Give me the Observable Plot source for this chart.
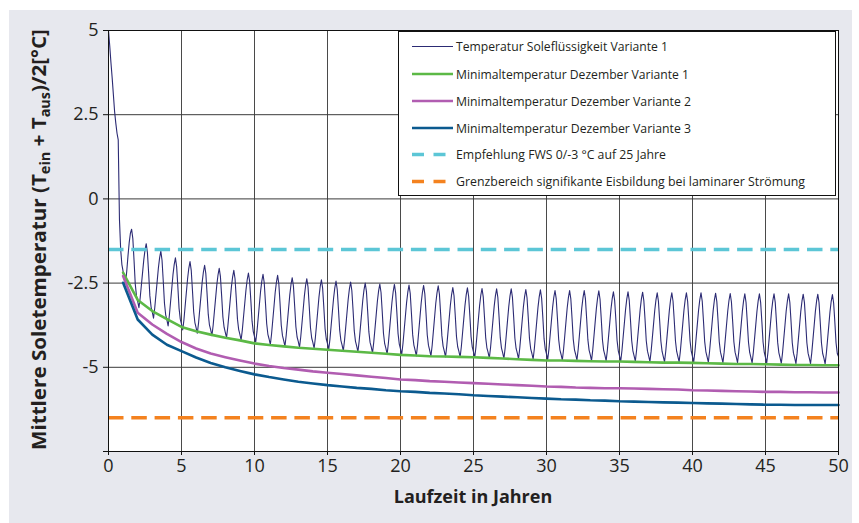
<!DOCTYPE html>
<html>
<head>
<meta charset="utf-8">
<script src="https://cdn.jsdelivr.net/npm/d3@7"></script>
<script src="https://cdn.jsdelivr.net/npm/@observablehq/plot@0.6"></script>
<style>
html, body { margin: 0; padding: 0; background: #ffffff; }
#wrap { position: relative; width: 859px; height: 523px; overflow: hidden; }
#panel { position: absolute; left: 9px; top: 10px; width: 843px; height: 513px; background: #e7e8ee; }
#chart { position: absolute; left: 0; top: 0; }
</style>
</head>
<body>
<div id="wrap"><div id="panel"></div><div id="chart"></div></div>
<script>
// ---------- data ----------
const xTicks = [0, 5, 10, 15, 20, 25, 30, 35, 40, 45, 50];
const yTicks = [-7.5, -5, -2.5, 0, 2.5, 5];

// Temperatur Soleflüssigkeit Variante 1 — monthly values, one row per year (year 0 … 49)
const soleV1 = [
  [5.0, 4.55, 4.05, 3.6, 3.1, 2.6, 2.25, 1.95, 1.75, -0.6, -1.5, -1.95],
  [-2.15, -2.4, -2.5, -2.15, -1.7, -1.3, -1.02, -0.9, -1.18, -1.83, -2.53, -2.88],
  [-3.04, -3.23, -2.95, -2.57, -2.19, -1.81, -1.52, -1.33, -1.60, -2.21, -2.88, -3.21],
  [-3.36, -3.54, -3.24, -2.84, -2.45, -2.05, -1.75, -1.55, -1.82, -2.44, -3.10, -3.44],
  [-3.59, -3.77, -3.47, -3.06, -2.66, -2.25, -1.95, -1.75, -2.01, -2.61, -3.25, -3.57],
  [-3.72, -3.89, -3.59, -3.18, -2.77, -2.37, -2.06, -1.86, -2.12, -2.71, -3.35, -3.67],
  [-3.82, -3.99, -3.69, -3.28, -2.88, -2.47, -2.17, -1.97, -2.22, -2.81, -3.43, -3.75],
  [-3.89, -4.06, -3.76, -3.36, -2.96, -2.56, -2.26, -2.06, -2.31, -2.88, -3.50, -3.81],
  [-3.96, -4.12, -3.82, -3.42, -3.02, -2.62, -2.32, -2.12, -2.37, -2.95, -3.57, -3.88],
  [-4.02, -4.19, -3.89, -3.49, -3.10, -2.70, -2.40, -2.20, -2.45, -3.02, -3.63, -3.94],
  [-4.09, -4.25, -3.95, -3.55, -3.14, -2.74, -2.44, -2.24, -2.49, -3.08, -3.70, -4.02],
  [-4.16, -4.33, -4.02, -3.61, -3.20, -2.78, -2.48, -2.27, -2.52, -3.11, -3.75, -4.06],
  [-4.21, -4.38, -4.07, -3.67, -3.26, -2.85, -2.54, -2.34, -2.59, -3.17, -3.79, -4.10],
  [-4.24, -4.41, -4.10, -3.70, -3.29, -2.88, -2.57, -2.37, -2.62, -3.20, -3.82, -4.13],
  [-4.27, -4.44, -4.13, -3.73, -3.32, -2.91, -2.60, -2.40, -2.65, -3.23, -3.85, -4.16],
  [-4.30, -4.47, -4.17, -3.76, -3.35, -2.95, -2.64, -2.44, -2.69, -3.27, -3.89, -4.20],
  [-4.34, -4.51, -4.20, -3.80, -3.39, -2.98, -2.67, -2.47, -2.72, -3.30, -3.92, -4.23],
  [-4.37, -4.54, -4.23, -3.83, -3.42, -3.01, -2.70, -2.50, -2.75, -3.33, -3.95, -4.26],
  [-4.40, -4.57, -4.26, -3.86, -3.45, -3.04, -2.73, -2.53, -2.78, -3.36, -3.99, -4.30],
  [-4.44, -4.61, -4.30, -3.89, -3.47, -3.06, -2.75, -2.54, -2.79, -3.37, -4.00, -4.31],
  [-4.45, -4.62, -4.31, -3.90, -3.49, -3.08, -2.77, -2.56, -2.81, -3.40, -4.03, -4.34],
  [-4.49, -4.66, -4.35, -3.93, -3.51, -3.09, -2.78, -2.57, -2.82, -3.41, -4.04, -4.35],
  [-4.50, -4.67, -4.36, -3.94, -3.52, -3.10, -2.79, -2.58, -2.83, -3.42, -4.06, -4.37],
  [-4.52, -4.69, -4.38, -3.97, -3.56, -3.15, -2.84, -2.63, -2.88, -3.46, -4.08, -4.39],
  [-4.53, -4.70, -4.39, -3.98, -3.57, -3.16, -2.85, -2.64, -2.89, -3.47, -4.09, -4.40],
  [-4.54, -4.71, -4.40, -3.99, -3.58, -3.17, -2.86, -2.66, -2.91, -3.49, -4.11, -4.42],
  [-4.56, -4.73, -4.42, -4.01, -3.60, -3.19, -2.88, -2.67, -2.92, -3.50, -4.12, -4.43],
  [-4.57, -4.74, -4.43, -4.02, -3.60, -3.19, -2.88, -2.67, -2.92, -3.50, -4.13, -4.44],
  [-4.58, -4.75, -4.44, -4.03, -3.62, -3.21, -2.90, -2.69, -2.94, -3.52, -4.14, -4.45],
  [-4.59, -4.76, -4.45, -4.04, -3.63, -3.22, -2.91, -2.70, -2.95, -3.53, -4.15, -4.46],
  [-4.60, -4.77, -4.46, -4.05, -3.64, -3.23, -2.92, -2.72, -2.97, -3.55, -4.17, -4.48],
  [-4.62, -4.79, -4.48, -4.07, -3.65, -3.24, -2.93, -2.72, -2.97, -3.55, -4.17, -4.48],
  [-4.62, -4.79, -4.48, -4.07, -3.65, -3.24, -2.93, -2.72, -2.97, -3.55, -4.18, -4.49],
  [-4.63, -4.80, -4.49, -4.08, -3.66, -3.25, -2.94, -2.73, -2.98, -3.56, -4.19, -4.50],
  [-4.64, -4.81, -4.50, -4.09, -3.68, -3.27, -2.96, -2.76, -3.01, -3.58, -4.20, -4.51],
  [-4.66, -4.82, -4.51, -4.10, -3.69, -3.28, -2.97, -2.76, -3.01, -3.58, -4.20, -4.51],
  [-4.66, -4.82, -4.51, -4.10, -3.69, -3.28, -2.97, -2.77, -3.02, -3.59, -4.21, -4.52],
  [-4.67, -4.83, -4.52, -4.12, -3.71, -3.30, -2.99, -2.79, -3.04, -3.61, -4.22, -4.53],
  [-4.68, -4.84, -4.53, -4.12, -3.71, -3.30, -2.99, -2.79, -3.04, -3.61, -4.22, -4.53],
  [-4.68, -4.84, -4.53, -4.12, -3.71, -3.30, -2.99, -2.79, -3.04, -3.61, -4.22, -4.53],
  [-4.68, -4.84, -4.53, -4.12, -3.71, -3.30, -2.99, -2.79, -3.04, -3.61, -4.23, -4.54],
  [-4.69, -4.85, -4.54, -4.13, -3.72, -3.31, -3.00, -2.80, -3.05, -3.62, -4.24, -4.55],
  [-4.70, -4.86, -4.55, -4.14, -3.73, -3.32, -3.01, -2.81, -3.06, -3.63, -4.24, -4.55],
  [-4.70, -4.86, -4.55, -4.15, -3.74, -3.33, -3.02, -2.82, -3.07, -3.64, -4.25, -4.56],
  [-4.71, -4.87, -4.56, -4.15, -3.74, -3.33, -3.02, -2.82, -3.07, -3.64, -4.25, -4.56],
  [-4.71, -4.87, -4.56, -4.15, -3.74, -3.33, -3.02, -2.82, -3.07, -3.64, -4.26, -4.57],
  [-4.72, -4.88, -4.57, -4.16, -3.75, -3.33, -3.03, -2.82, -3.07, -3.65, -4.27, -4.58],
  [-4.72, -4.89, -4.58, -4.17, -3.76, -3.34, -3.03, -2.83, -3.08, -3.65, -4.27, -4.58],
  [-4.73, -4.89, -4.58, -4.17, -3.76, -3.34, -3.03, -2.83, -3.08, -3.66, -4.28, -4.59],
  [-4.73, -4.90, -4.59, -4.18, -3.77, -3.35, -3.04, -2.84, -3.09, -3.66, -4.28, -4.59]
];
const soleV1Final = -4.68; // value at year 50

// Minimaltemperatur Dezember, yearly values for years 1 … 50
const minYears = [1,2,3,4,5,6,7,8,9,10,11,12,13,14,15,16,17,18,19,20,21,22,23,24,25,26,27,28,29,30,31,32,33,34,35,36,37,38,39,40,41,42,43,44,45,46,47,48,49,50];
const minV1 = [-2.19,-3.00,-3.33,-3.57,-3.80,-3.93,-4.03,-4.12,-4.20,-4.29,-4.34,-4.38,-4.42,-4.45,-4.48,-4.51,-4.54,-4.57,-4.60,-4.63,-4.65,-4.67,-4.68,-4.69,-4.70,-4.72,-4.74,-4.76,-4.78,-4.80,-4.80,-4.81,-4.82,-4.83,-4.83,-4.84,-4.85,-4.86,-4.86,-4.87,-4.88,-4.89,-4.90,-4.90,-4.91,-4.92,-4.93,-4.93,-4.94,-4.94];
const minV2 = [-2.29,-3.38,-3.73,-4.01,-4.25,-4.44,-4.59,-4.70,-4.80,-4.89,-4.96,-5.02,-5.07,-5.12,-5.16,-5.20,-5.24,-5.28,-5.32,-5.36,-5.38,-5.41,-5.43,-5.45,-5.47,-5.49,-5.51,-5.53,-5.55,-5.57,-5.58,-5.60,-5.61,-5.62,-5.62,-5.63,-5.64,-5.65,-5.66,-5.68,-5.69,-5.70,-5.71,-5.72,-5.73,-5.73,-5.74,-5.74,-5.75,-5.75];
const minV3 = [-2.49,-3.58,-4.03,-4.33,-4.52,-4.71,-4.87,-5.00,-5.11,-5.21,-5.29,-5.36,-5.43,-5.48,-5.53,-5.57,-5.61,-5.64,-5.68,-5.71,-5.73,-5.76,-5.78,-5.80,-5.83,-5.85,-5.87,-5.89,-5.91,-5.93,-5.95,-5.96,-5.98,-5.99,-6.01,-6.02,-6.03,-6.04,-6.05,-6.06,-6.07,-6.08,-6.09,-6.10,-6.11,-6.11,-6.12,-6.12,-6.12,-6.12];

const empfehlungFWS = -1.5;
const grenzbereich = -6.5;

const legendLabels = [
  "Temperatur Soleflüssigkeit Variante 1",
  "Minimaltemperatur Dezember Variante 1",
  "Minimaltemperatur Dezember Variante 2",
  "Minimaltemperatur Dezember Variante 3",
  "Empfehlung FWS 0/-3 °C auf 25 Jahre",
  "Grenzbereich signifikante Eisbildung bei laminarer Strömung"
];
const colors = ["#2c2b74", "#5cb946", "#b15db1", "#0b5a8f", "#5cc6d6", "#f4821f"];

// ---------- build tables ----------
const soleData = soleV1.flatMap((row, y) => row.map((v, m) => ({t: y + m / 12, v})));
soleData.push({t: 50, v: soleV1Final});
const minData = (arr) => arr.map((v, i) => ({t: minYears[i], v}));

const FONT = "'Open Sans', 'Noto Sans', sans-serif";
const TXT = "#231f20";
const dash = "15.5,7.8";

const plot = Plot.plot({
  width: 859,
  height: 523,
  marginLeft: 108,
  marginRight: 21,
  marginTop: 30,
  marginBottom: 72,
  style: {background: "transparent", fontFamily: FONT, fontSize: "18px", color: TXT, overflow: "visible"},
  x: {domain: [0, 50]},
  y: {domain: [-7.5, 5]},
  marks: [
    Plot.frame({fill: "white", stroke: null}),
    Plot.ruleX(xTicks, {stroke: "#4a4a4a", strokeWidth: 1}),
    Plot.ruleY(yTicks, {stroke: "#3a3a3a", strokeWidth: 1}),
    Plot.line(soleData, {x: "t", y: "v", stroke: colors[0], strokeWidth: 1.1}),
    Plot.line(minData(minV1), {x: "t", y: "v", stroke: colors[1], strokeWidth: 2.6}),
    Plot.line(minData(minV2), {x: "t", y: "v", stroke: colors[2], strokeWidth: 2.6}),
    Plot.line(minData(minV3), {x: "t", y: "v", stroke: colors[3], strokeWidth: 2.6}),
    Plot.ruleY([empfehlungFWS], {stroke: colors[4], strokeWidth: 3.5, strokeDasharray: dash}),
    Plot.ruleY([grenzbereich], {stroke: colors[5], strokeWidth: 3.5, strokeDasharray: dash}),
    Plot.frame({stroke: "#111", strokeWidth: 1}),
    Plot.axisX({ticks: xTicks, tickSize: 4, tickPadding: 4, label: null, tickFormat: d => String(d), fill: TXT, stroke: "#111"}),
    Plot.axisY({ticks: yTicks, tickSize: 5, tickPadding: 5, label: null, tickFormat: d => d === -7.5 ? "" : String(d), fill: TXT, stroke: "#111"})
  ]
});
document.getElementById("chart").appendChild(plot);

const svg = d3.select(plot);

// x-axis title
svg.append("text")
  .attr("x", 473).attr("y", 503)
  .attr("text-anchor", "middle")
  .attr("font-family", FONT).attr("font-weight", "bold").attr("font-size", 18)
  .attr("fill", TXT)
  .text("Laufzeit in Jahren");

// y-axis title with subscripts
const yt = svg.append("text")
  .attr("font-family", FONT).attr("font-weight", "bold").attr("font-size", 20)
  .attr("fill", TXT).attr("text-anchor", "start");
yt.append("tspan").text("Mittlere Soletemperatur (T");
yt.append("tspan").attr("font-size", 14).attr("dy", 4).text("ein");
yt.append("tspan").attr("dy", -4).text(" + T");
yt.append("tspan").attr("font-size", 14).attr("dy", 4).text("aus");
yt.append("tspan").attr("dy", -4).text(")/2[°C]");
const ytw = yt.node().getBBox().width;
yt.attr("transform", `translate(46,450) rotate(-90) scale(${421 / ytw},1)`);

// legend box
const lg = svg.append("g").attr("text-anchor", "start");
lg.append("rect")
  .attr("x", 398.5).attr("y", 31.5).attr("width", 437).attr("height", 164)
  .attr("fill", "white").attr("stroke", "#111").attr("stroke-width", 1);
const rowY = [46.5, 74, 101, 128, 154.5, 181.5];
const widths = [1.1, 2.6, 2.6, 2.6, 3.5, 3.5];
const textW = [212, 233, 235, 235, 210, 349];
legendLabels.forEach((lab, i) => {
  lg.append("line")
    .attr("x1", 412).attr("x2", 453).attr("y1", rowY[i]).attr("y2", rowY[i])
    .attr("stroke", colors[i]).attr("stroke-width", widths[i])
    .attr("stroke-dasharray", i >= 4 ? "12,9.5" : null);
  lg.append("text")
    .attr("x", 456).attr("y", rowY[i] - 0.5)
    .attr("text-anchor", "start")
    .attr("dominant-baseline", "central")
    .attr("font-family", FONT).attr("font-size", 13.5)
    .attr("fill", TXT)
    .attr("textLength", textW[i]).attr("lengthAdjust", "spacingAndGlyphs")
    .text(lab);
});
</script>
</body>
</html>
